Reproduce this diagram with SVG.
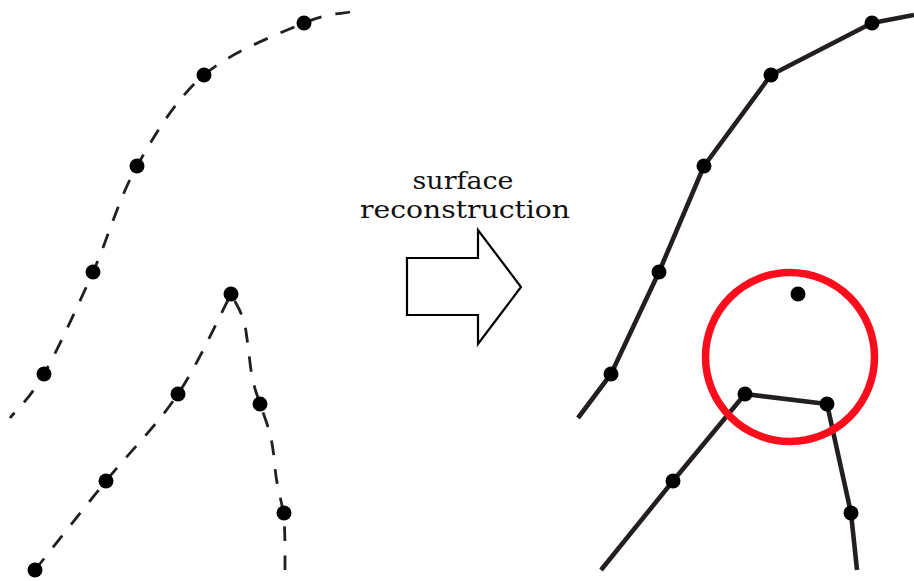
<svg xmlns="http://www.w3.org/2000/svg" width="914" height="581" viewBox="0 0 914 581">
<style>
.dash{fill:none;stroke:#231f20;stroke-width:2.8;stroke-dasharray:15 14}
.solid{fill:none;stroke:#231f20;stroke-width:4.6;stroke-linejoin:round}
.dot{fill:#000}
.lbl{font-family:"DejaVu Serif","Liberation Serif",serif;font-size:24px;fill:#111;text-anchor:middle}
</style>
<rect width="914" height="581" fill="#fff"/>
<g id="connectors">
<path class="dash" d="M350,12 C342.3,13.8 328.3,12.5 304,23 C279.7,33.5 231.8,51.2 204,75 C176.2,98.8 155.5,133.2 137,166 C118.5,198.8 108.5,237.3 93,272 C77.5,306.7 57.8,349.7 44,374 C30.2,398.3 15.7,410.7 10,418"/>
<path class="dash" d="M35,570 C46.8,555.2 82.2,510.3 106,481 C129.8,451.7 157.2,425.2 178,394 C198.8,362.8 222.2,310.7 231,294 L237.5,306 Q244,318 246,331.5 Q248,345 250,362.5 Q252,380 256,392 Q260,404 265,418 Q270,432 272,443.5 Q274,455 275,467.5 Q276,480 280,496.5 Q284,513 284.5,526.5 Q285,540 285,555 L285,570"/>
<path class="solid" d="M578,418 L611,374 L659,272 L704,166 L771,75 L872,23 L914,15"/>
<path class="solid" d="M601,570 L673,481 L745,394 L827,404 L851,513 L857,570"/>
</g>
<g id="left-points">
<circle class="dot" cx="304" cy="23" r="7.5"/>
<circle class="dot" cx="204" cy="75" r="7.5"/>
<circle class="dot" cx="137" cy="166" r="7.5"/>
<circle class="dot" cx="93" cy="272" r="7.5"/>
<circle class="dot" cx="44" cy="374" r="7.5"/>
<circle class="dot" cx="231" cy="294" r="7.5"/>
<circle class="dot" cx="178" cy="394" r="7.5"/>
<circle class="dot" cx="106" cy="481" r="7.5"/>
<circle class="dot" cx="35" cy="570" r="7.5"/>
<circle class="dot" cx="260" cy="404" r="7.5"/>
<circle class="dot" cx="284" cy="513" r="7.5"/>
</g>
<g id="right-points">
<circle class="dot" cx="611" cy="374" r="7.5"/>
<circle class="dot" cx="659" cy="272" r="7.5"/>
<circle class="dot" cx="704" cy="166" r="7.5"/>
<circle class="dot" cx="771" cy="75" r="7.5"/>
<circle class="dot" cx="872" cy="23" r="7.5"/>
<circle class="dot" cx="673" cy="481" r="7.5"/>
<circle class="dot" cx="745" cy="394" r="7.5"/>
<circle class="dot" cx="827" cy="404" r="7.5"/>
<circle class="dot" cx="851" cy="513" r="7.5"/>
<circle class="dot" cx="798" cy="294" r="7.5"/>
</g>
<g id="highlight">
<circle cx="790" cy="357" r="84.5" fill="none" stroke="#fb0d1b" stroke-width="7.5"/>
</g>
<g id="arrow">
<polygon points="407,258 478,258 478,230 521,287 478,344 478,315 407,315" fill="#fff" stroke="#000" stroke-width="2.2" stroke-linejoin="miter"/>
<text class="lbl"><tspan x="463" y="189" textLength="101" lengthAdjust="spacingAndGlyphs">surface</tspan><tspan x="465" y="218" textLength="210" lengthAdjust="spacingAndGlyphs">reconstruction</tspan></text>
</g>
</svg>
